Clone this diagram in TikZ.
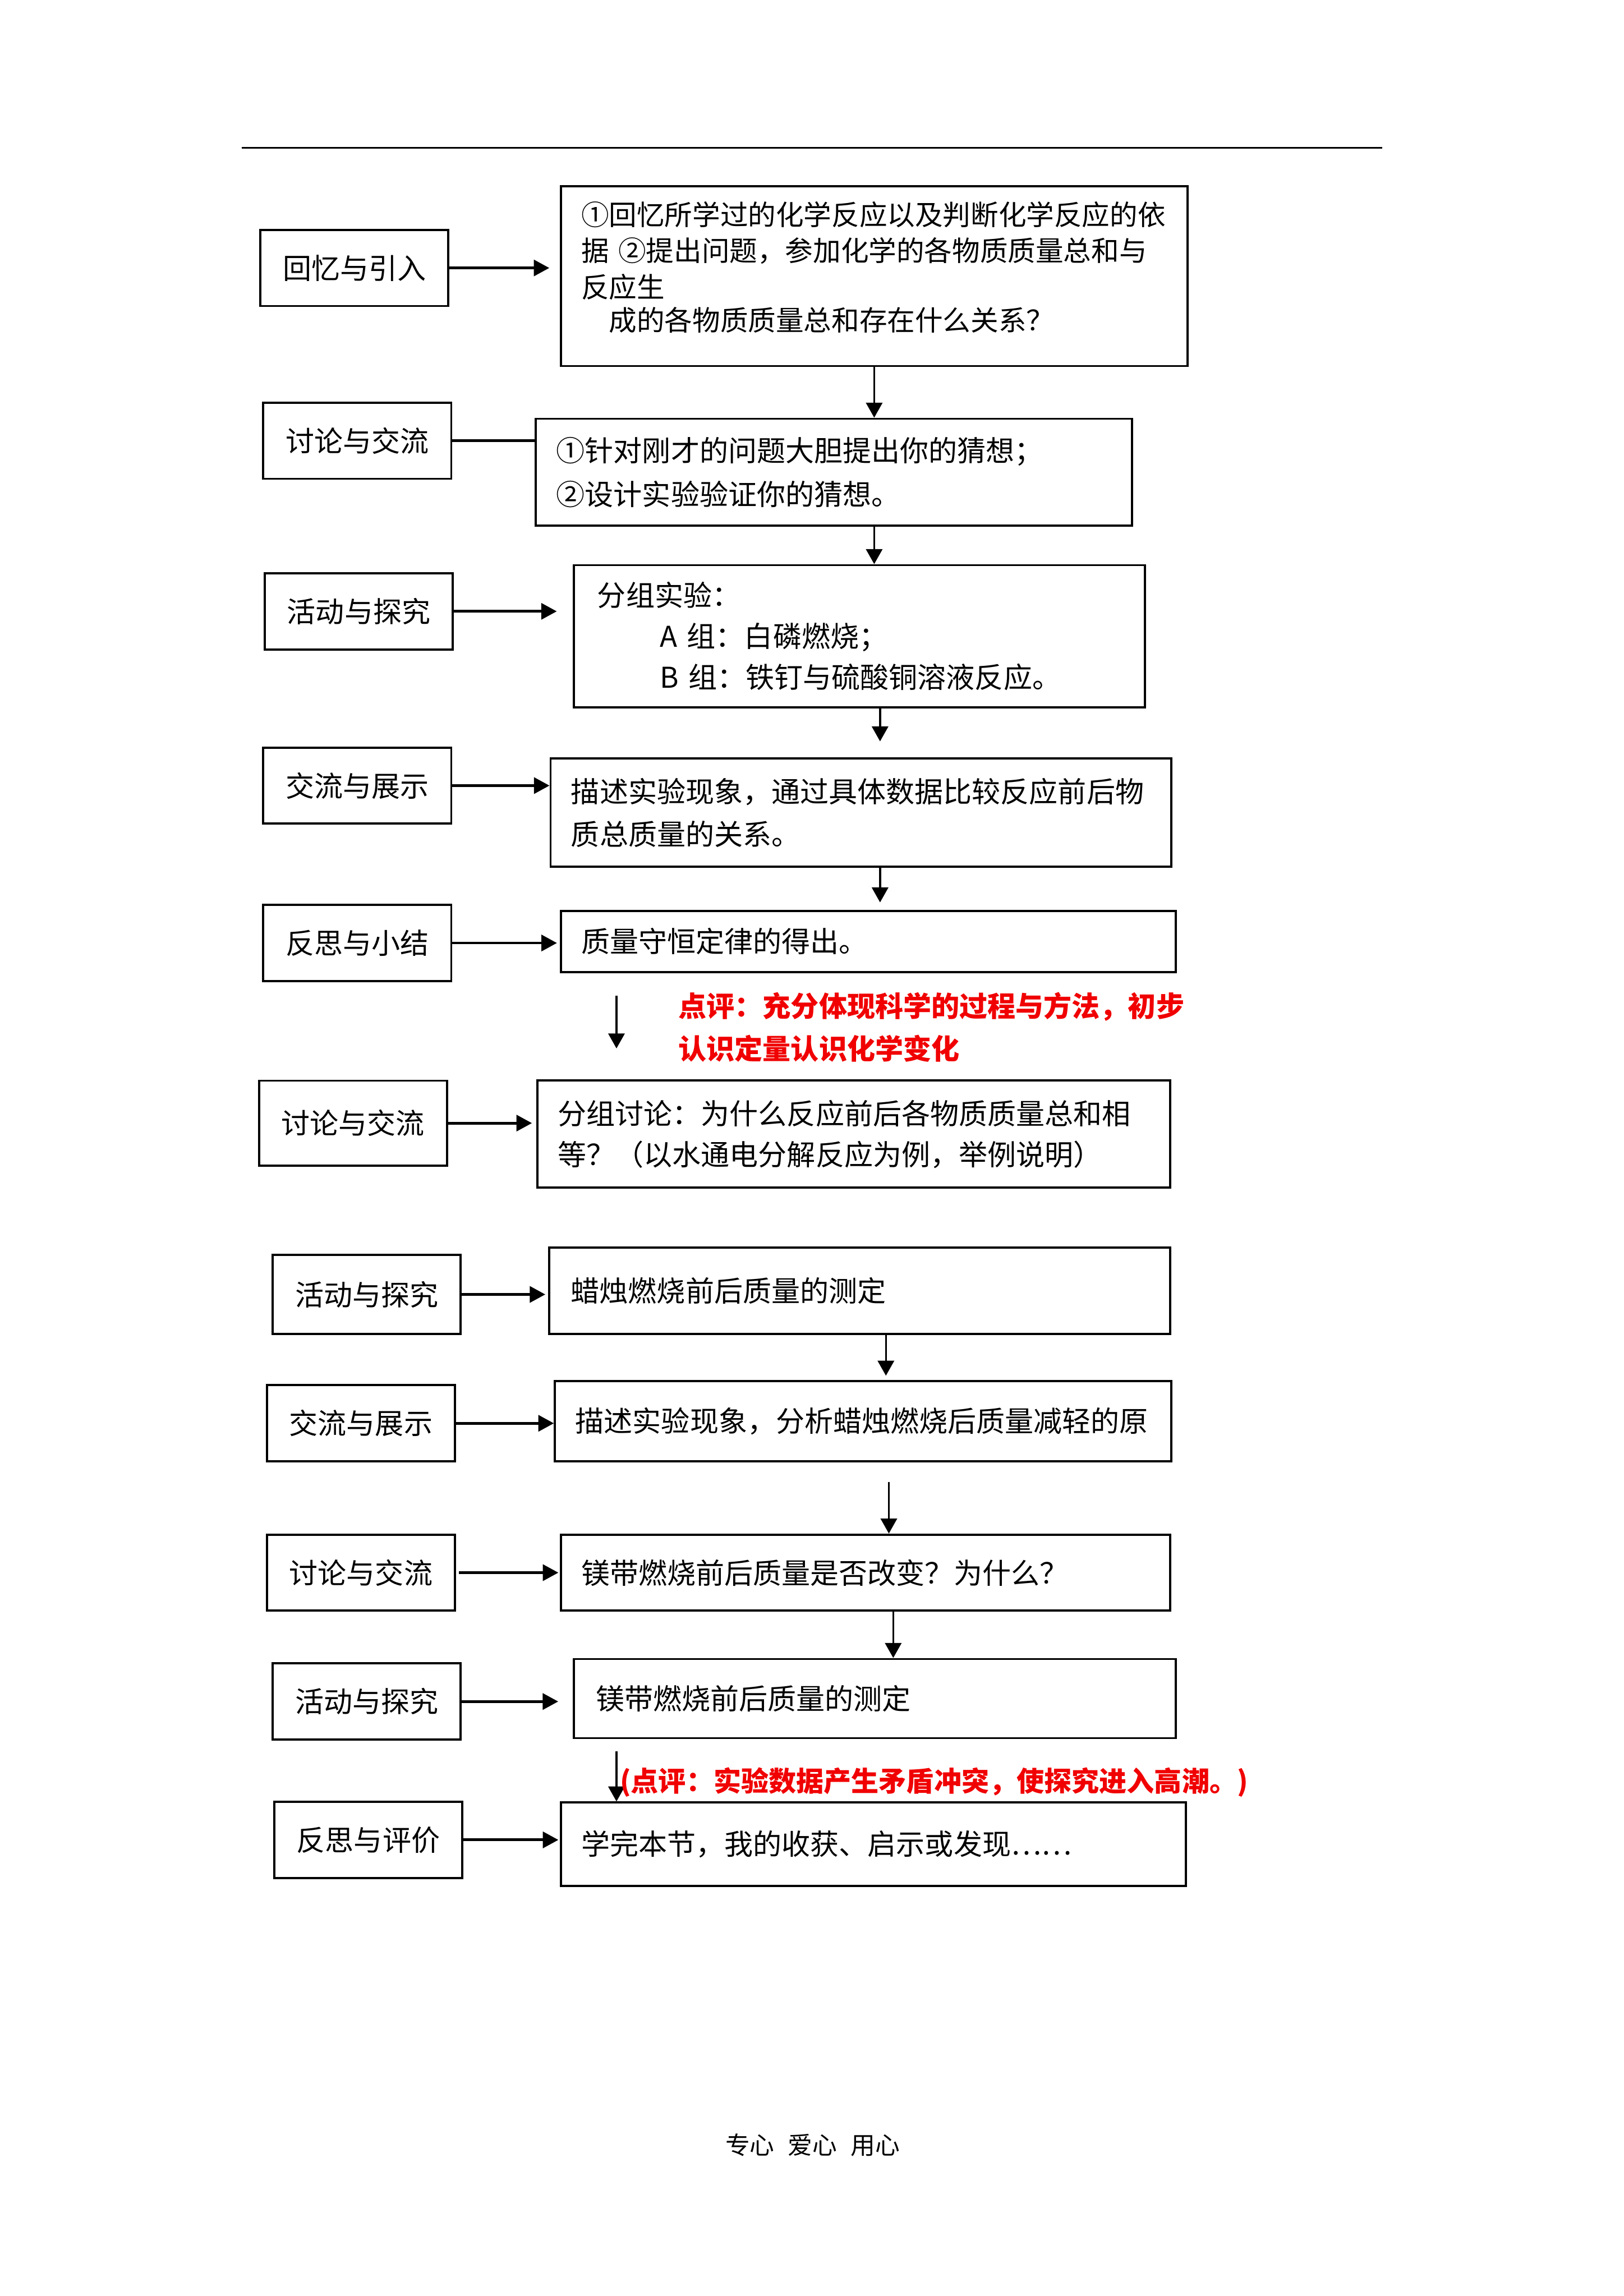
\documentclass[tikz,border=0pt]{standalone}
\usepackage{fontspec}
\setmainfont{Noto Sans CJK SC}
\usetikzlibrary{arrows.meta}
\definecolor{remark}{RGB}{240,0,0}
\begin{document}
\begin{tikzpicture}[x=0.5368pt,y=-0.5368pt,
  lbox/.style={draw,line width=0.8pt,minimum width=68.9pt,minimum height=27.9pt,inner sep=0pt,font=\fontsize{10.5pt}{13pt}\selectfont},
  rbox/.style={draw,line width=0.8pt,inner ysep=0pt,inner xsep=7.5pt,align=left},
  harrow/.style={line width=1pt,-{Triangle[length=5.7pt,width=5.9pt]}},
  hline/.style={line width=1pt},
  varrow/.style={line width=0.7pt,-{Triangle[length=5.5pt,width=6pt]}},
  remarktext/.style={text=remark,font=\fontsize{10.3pt}{15.6pt}\selectfont\bfseries,inner sep=0pt,align=left}
]
\useasboundingbox (0,0) rectangle (1109,1568);
\draw[line width=0.5pt] (165,101) -- (944,101);

% left boxes
\node[lbox] (L1) at (242,183) {回忆与引入};
\node[lbox] (L2) at (244,301) {讨论与交流};
\node[lbox] (L3) at (245,417.5) {活动与探究};
\node[lbox] (L4) at (244,536.5) {交流与展示};
\node[lbox] (L5) at (244,644) {反思与小结};
\node[lbox,minimum height=31.1pt] (L6) at (241,767) {讨论与交流};
\node[lbox,minimum height=29pt] (L7) at (250.5,884) {活动与探究};
\node[lbox] (L8) at (246.5,972) {交流与展示};
\node[lbox] (L9) at (246.5,1074) {讨论与交流};
\node[lbox] (L10) at (250.5,1162) {活动与探究};
\node[lbox] (L11) at (251.5,1256.5) {反思与评价};

% right boxes
\node[rbox,minimum width=229.8pt,minimum height=66pt,text width=214.8pt,font=\fontsize{10.2pt}{13.2pt}\selectfont] (R1) at (597,188.5)
 {①回忆所学过的化学反应以及判断化学反应的依\\据 ②提出问题，参加化学的各物质质量总和与\\反应生\\[-1pt]\hspace*{10.2pt}成的各物质质量总和存在什么关系？\\[-6pt]\mbox{}};
\node[rbox,minimum width=218.5pt,minimum height=39.2pt,text width=203.5pt,font=\fontsize{10.5pt}{16.1pt}\selectfont] (R2) at (569.5,322.5)
 {①针对刚才的问题大胆提出你的猜想；\\②设计实验验证你的猜想。};
\node[rbox,minimum width=209.4pt,minimum height=52.1pt,inner xsep=8.6pt,text width=192.2pt,font=\fontsize{10.5pt}{15pt}\selectfont] (R3) at (587,434.5)
 {分组实验：\\\hspace*{23pt}A 组：白磷燃烧；\\\hspace*{23pt}B 组：铁钉与硫酸铜溶液反应。};
\node[rbox,minimum width=227.6pt,minimum height=39.7pt,text width=212.6pt,font=\fontsize{10.5pt}{15.6pt}\selectfont] (R4) at (588,555)
 {描述实验现象，通过具体数据比较反应前后物\\质总质量的关系。};
\node[rbox,minimum width=225.5pt,minimum height=22.5pt,text width=210.5pt,font=\fontsize{10.5pt}{13pt}\selectfont] (R5) at (593,643)
 {质量守恒定律的得出。};
\node[rbox,minimum width=231.9pt,minimum height=39.2pt,text width=216.9pt,font=\fontsize{10.5pt}{15pt}\selectfont] (R6) at (583,774.5)
 {分组讨论：为什么反应前后各物质质量总和相\\等？（以水通电分解反应为例，举例说明）};
\node[rbox,minimum width=227.6pt,minimum height=31.7pt,inner xsep=8pt,text width=211.6pt,font=\fontsize{10.5pt}{13pt}\selectfont] (R7) at (587,881.5)
 {蜡烛燃烧前后质量的测定};
\node[rbox,minimum width=226pt,minimum height=29.5pt,text width=211pt,font=\fontsize{10.5pt}{13pt}\selectfont] (R8) at (589.5,970.5)
 {描述实验现象，分析蜡烛燃烧后质量减轻的原};
\node[rbox,minimum width=223.3pt,minimum height=27.9pt,text width=208.3pt,font=\fontsize{10.5pt}{13pt}\selectfont] (R9) at (591,1074)
 {镁带燃烧前后质量是否改变？为什么？};
\node[rbox,minimum width=220.6pt,minimum height=29pt,inner xsep=8pt,text width=204.6pt,font=\fontsize{10.5pt}{13pt}\selectfont] (R10) at (597.5,1160)
 {镁带燃烧前后质量的测定};
\node[rbox,minimum width=229.2pt,minimum height=30.6pt,text width=214.2pt,font=\fontsize{10.5pt}{13pt}\selectfont] (R11) at (596.5,1259.5)
 {学完本节，我的收获、启示或发现……};

% horizontal connectors
\draw[harrow,shorten >=3.8pt] (L1.east) -- (L1.east -| R1.west);
\draw[hline] (L2.east) -- (L2.east -| R2.west);
\draw[harrow,shorten >=5.9pt] (L3.east) -- (L3.east -| R3.west);
\draw[harrow] (L4.east) -- (L4.east -| R4.west);
\draw[harrow,shorten >=1pt] (L5.east) -- (L5.east -| R5.west);
\draw[harrow,shorten >=1.6pt] (L6.east) -- (L6.east -| R6.west);
\draw[harrow,shorten >=1pt] (L7.east) -- (L7.east -| R7.west);
\draw[harrow] (L8.east) -- (L8.east -| R8.west);
\draw[harrow,shorten <=1pt,shorten >=0.5pt] (L9.east) -- (L9.east -| R9.west);
\draw[harrow,shorten >=5.4pt] (L10.east) -- (L10.east -| R10.west);
\draw[harrow,shorten >=0.5pt] (L11.east) -- (L11.east -| R11.west);

% vertical connectors
\coordinate (k1) at (597,0);
\coordinate (k3) at (601,0);
\coordinate (k6) at (605,0);
\coordinate (k8) at (610,0);
\coordinate (f1) at (421,680);
\coordinate (f2) at (421,716);
\coordinate (f3) at (607,1012);
\coordinate (f4) at (421,1196);
\draw[varrow] (R1.south -| k1) -- (R2.north -| k1);
\draw[varrow] (R2.south -| k1) -- (R3.north -| k1);
\draw[varrow,shorten >=5.9pt] (R3.south -| k3) -- (R4.north -| k3);
\draw[varrow,shorten >=2.7pt] (R4.south -| k3) -- (R5.north -| k3);
\draw[varrow] (f1) -- (f2);
\draw[varrow,shorten >=1.5pt] (R7.south -| k6) -- (R8.north -| k6);
\draw[varrow] (f3) -- (f3 |- R9.north);
\draw[varrow] (R9.south -| k8) -- (R10.north -| k8);
\draw[varrow] (f4) -- (f4 |- R11.north);

% remarks
\node[remarktext,anchor=west] (C1) at (463,701.5) {点评：充分体现科学的过程与方法，初步\\认识定量认识化学变化};
\node[remarktext,anchor=west,font=\fontsize{10.1pt}{12pt}\selectfont\bfseries] (C2) at (423,1217) {(点评：实验数据产生矛盾冲突，使探究进入高潮。)};

% footer
\node[font=\fontsize{9pt}{11pt}\selectfont,inner sep=0pt] (F) at (555,1465) {专心\hspace{5pt}爱心\hspace{5pt}用心};
\end{tikzpicture}
\end{document}
